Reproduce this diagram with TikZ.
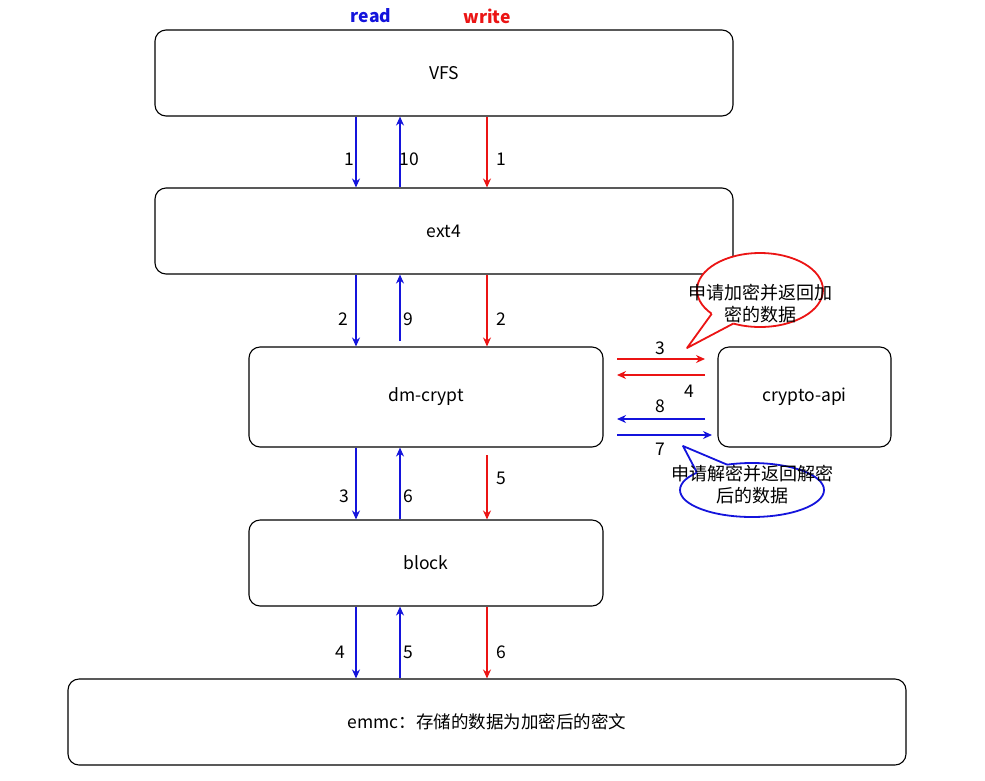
\documentclass[tikz,border=0pt]{standalone}
\usepackage{fontspec}
\setmainfont{Noto Sans CJK SC}
\usetikzlibrary{arrows.meta}
\definecolor{rd}{RGB}{235,20,20}
\definecolor{bl}{RGB}{20,20,220}
\begin{document}
\begin{tikzpicture}[x=1pt,y=-1pt,
 box/.style={draw,rounded corners=11pt,line width=1.1pt,inner sep=0,font=\fontsize{17.5}{20}\selectfont},
 ar/.style={line width=1.4pt,-{Stealth[length=9pt,width=8pt]}},
 lb/.style={font=\fontsize{17.5}{20}\selectfont},
 ct/.style={font=\fontsize{18}{22}\selectfont,align=center}]
\useasboundingbox (0,0) rectangle (985,780);
\node[box,minimum width=578pt,minimum height=86pt] (vfs) at (444,73) {VFS};
\node[box,minimum width=578pt,minimum height=86pt] (ext) at (444,231) {ext4};
\node[box,minimum width=354pt,minimum height=100pt] (dm) at (426,397) {dm-crypt};
\node[box,minimum width=173pt,minimum height=100pt] (ca) at (804.5,397) {crypto-api};
\node[box,minimum width=354pt,minimum height=86pt] (blk) at (426,563) {block};
\node[box,minimum width=838pt,minimum height=86pt] (em) at (487,722) {emmc：存储的数据为加密后的密文};
\coordinate (xr) at (356,0); \coordinate (xu) at (400,0); \coordinate (xw) at (487,0);
\node[font=\bfseries\fontsize{17.5}{20}\selectfont,text=bl] (tr) at (371,16) {read};
\node[font=\bfseries\fontsize{17.5}{20}\selectfont,text=rd] (tw) at (487,16) {write};
% VFS-ext4
\draw[ar,bl] (vfs.south -| xr) -- (ext.north -| xr);
\draw[ar,bl] (ext.north -| xu) -- (vfs.south -| xu);
\draw[ar,rd] (vfs.south -| xw) -- (ext.north -| xw);
\node[lb] at (349,159) {1}; \node[lb] at (409,159) {10}; \node[lb] at (501,159) {1};
% ext4-dm
\draw[ar,bl] (ext.south -| xr) -- (dm.north -| xr);
\coordinate (u9) at (400,341);
\draw[ar,bl] (u9) -- (ext.south -| xu);
\draw[ar,rd] (ext.south -| xw) -- (dm.north -| xw);
\node[lb] at (343,319) {2}; \node[lb] at (408,319) {9}; \node[lb] at (501,319) {2};
% dm-block
\draw[ar,bl] (dm.south -| xr) -- (blk.north -| xr);
\draw[ar,bl] (blk.north -| xu) -- (dm.south -| xu);
\coordinate (w5) at (487,455);
\draw[ar,rd] (w5) -- (blk.north -| xw);
\node[lb] at (344,496) {3}; \node[lb] at (408,496) {6}; \node[lb] at (501,478) {5};
% block-emmc
\draw[ar,bl] (blk.south -| xr) -- (em.north -| xr);
\draw[ar,bl] (em.north -| xu) -- (blk.south -| xu);
\draw[ar,rd] (blk.south -| xw) -- (em.north -| xw);
\node[lb] at (340,652) {4}; \node[lb] at (408,652) {5}; \node[lb] at (501,652) {6};
% horizontal
\coordinate (a3) at (617,359); \coordinate (b3) at (705,359);
\coordinate (a4) at (617,375); \coordinate (b4) at (705,375);
\coordinate (a8) at (617,419); \coordinate (b8) at (705,419);
\coordinate (a7) at (617,435); \coordinate (b7) at (712,435);
\draw[ar,rd] (a3) -- (b3); \draw[ar,rd] (b4) -- (a4);
\draw[ar,bl] (b8) -- (a8); \draw[ar,bl] (a7) -- (b7);
\node[lb] at (660,348) {3}; \node[lb] at (689,391) {4};
\node[lb] at (660,406) {8}; \node[lb] at (660,449) {7};
% callouts
\draw[rd,line width=1.8pt,fill=white] (760,290) ellipse [x radius=63,y radius=37];
\fill[white] (711.7,313.8) -- (687,348) -- (733.4,323.5) -- (735,315) -- (715,308) -- cycle;
\draw[rd,line width=1.8pt,line join=round] (711.7,313.8) -- (687,348) -- (733.4,323.5);
\node[ct] (c1) at (760,304) {申请加密并返回加\\密的数据};
\draw[bl,line width=1.8pt,fill=white] (752,490) ellipse [x radius=72,y radius=27];
\fill[white] (697,472.6) -- (683,446) -- (727,464.6) -- (727,470) -- (700,478) -- cycle;
\draw[bl,line width=1.8pt,line join=round] (697,472.6) -- (683,446) -- (727,464.6);
\node[ct] (c2) at (752,485) {申请解密并返回解密\\后的数据};
\end{tikzpicture}
\end{document}
